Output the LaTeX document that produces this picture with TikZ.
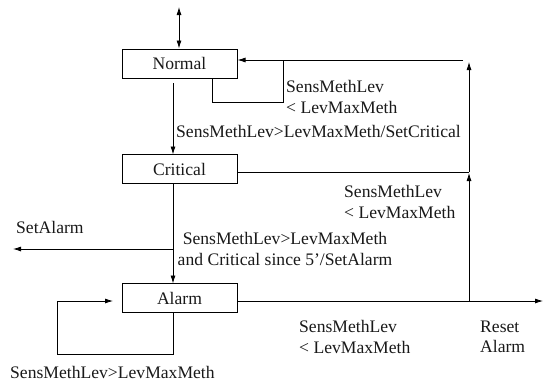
\documentclass[tikz,border=0pt]{standalone}
\usepackage{fontspec}
\setmainfont{Liberation Serif}
\usetikzlibrary{arrows.meta}
\begin{document}
\begin{tikzpicture}[x=1pt,y=-1pt,
  every node/.style={font=\fontsize{17.6}{20.5}\selectfont, text=black!90},
  statebox/.style={draw, line width=0.8pt, minimum width=115pt, minimum height=29pt, inner sep=0pt},
  lbl/.style={anchor=west, inner sep=0pt, align=left},
  conn/.style={line width=0.8pt},
  arr/.style={conn, -{Latex[length=8pt,width=5pt]}},
  darr/.style={conn, {Latex[length=8pt,width=5pt]}-{Latex[length=8pt,width=5pt]}}]
\useasboundingbox (0,0) rectangle (543,383);
% states
\node[statebox] (normal) at (179.5,63.5) {Normal};
\node[statebox] (critical) at (179.5,169) {Critical};
\node[statebox] (alarm) at (179.5,298) {Alarm};
% coordinates
\coordinate (top) at (179,7);
\coordinate (ntop) at (179,48.5);
\coordinate (nout) at (173,83);
\coordinate (cin) at (173,154.5);
\coordinate (cout) at (173,183.5);
\coordinate (ain) at (173,283.5);
\coordinate (split) at (173,249);
\coordinate (setalarm) at (13,249);
\coordinate (aright) at (237,301);
\coordinate (aend) at (543,301);
\coordinate (rjoin) at (469,301);
\coordinate (rmid) at (469,173);
\coordinate (rmid2) at (469,172);
\coordinate (rtop) at (469,62);
\coordinate (topline) at (463,60);
\coordinate (nright) at (237.5,60);
\coordinate (cright) at (237,172);
\coordinate (nloopA) at (212,78.5);
\coordinate (nloopB) at (212,102);
\coordinate (nloopC) at (283,102);
\coordinate (nloopD) at (283,60);
\coordinate (aloopA) at (173,312.5);
\coordinate (aloopB) at (173,354);
\coordinate (aloopC) at (57,354);
\coordinate (aloopD) at (57,301);
\coordinate (aloopE) at (113,301);
% connectors
\draw[darr] (top) -- (ntop);
\draw[arr] (nout) -- (cin);
\draw[conn] (cout) -- (split);
\draw[arr] (split) -- (ain);
\draw[arr] (split) -- (setalarm);
\draw[arr] (aright) -- (aend);
\draw[arr] (rjoin) -- (rmid);
\draw[conn] (cright) -- (rmid2);
\draw[arr] (rmid2) -- (rtop);
\draw[arr] (topline) -- (nright);
\draw[conn] (nloopA) -- (nloopB) -- (nloopC) -- (nloopD);
\draw[conn] (aloopA) -- (aloopB) -- (aloopC) -- (aloopD);
\draw[arr] (aloopD) -- (aloopE);
% labels
\node[lbl] (l1) at (286,97) {SensMethLev\\< LevMaxMeth};
\node[lbl] (l2) at (176,131) {SensMethLev>LevMaxMeth/SetCritical};
\node[lbl] (l3) at (344,202) {SensMethLev\\< LevMaxMeth};
\node[lbl] (l4) at (16,227) {SetAlarm};
\node[inner sep=0pt, align=center] (l5) at (285,249) {SensMethLev>LevMaxMeth\\and Critical since 5’/SetAlarm};
\node[lbl] (l6) at (299,337) {SensMethLev\\< LevMaxMeth};
\node[lbl] (l7) at (480,337) {Reset\\Alarm};
\node[lbl] (l8) at (10,372) {SensMethLev>LevMaxMeth};
\end{tikzpicture}
\end{document}
